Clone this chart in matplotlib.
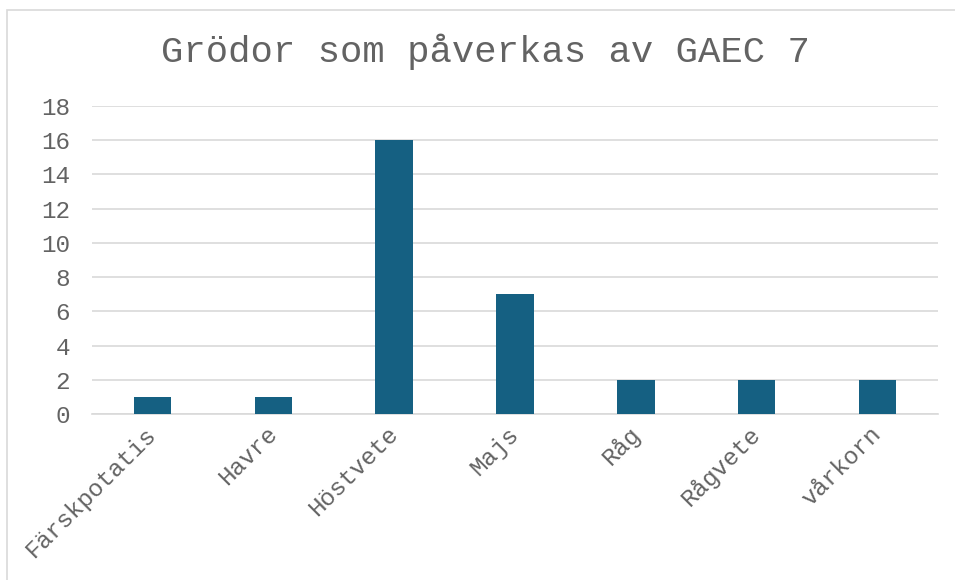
import matplotlib.pyplot as plt
import matplotlib.transforms as mtransforms
from matplotlib.patches import Rectangle

# Data
crops = ['Färskpotatis', 'Havre', 'Höstvete', 'Majs', 'Råg', 'Rågvete', 'vårkorn']
counts = [1, 1, 16, 7, 2, 2, 2]
yticks = [0, 2, 4, 6, 8, 10, 12, 14, 16, 18]

W, H = 955, 580
plt.rcParams['font.family'] = ['Liberation Mono', 'DejaVu Sans Mono']
txt = '#636363'

fig = plt.figure(figsize=(W / 100, H / 100), dpi=100)
# outer chart border
fig.patches.append(Rectangle((7 / W, -0.05), 1.1, (H - 10) / H + 0.05,
                             transform=fig.transFigure, fill=False,
                             edgecolor='#d9d9d9', linewidth=1.2))

ax = fig.add_axes([92 / W, 1 - 414 / H, (938 - 92) / W, (414 - 106) / H])
x = range(len(crops))
ax.bar(x, counts, width=0.31, color='#156082', zorder=3)

ax.set_xlim(-0.5, len(crops) - 0.5)
ax.set_ylim(0, 18)
ax.set_yticks(yticks)
ax.set_xticks(list(x))
ax.set_xticklabels(crops, rotation=45, ha='right', rotation_mode='anchor')
ax.tick_params(axis='both', length=0, labelsize=17.5, labelcolor=txt)
ax.tick_params(axis='y', pad=16)
ax.tick_params(axis='x', pad=6)
# nudge rotated labels a little to the left, like the original
shift = mtransforms.ScaledTranslation(-8 / 100, 0, fig.dpi_scale_trans)
for lbl in ax.get_xticklabels():
    lbl.set_transform(lbl.get_transform() + shift)
ax.grid(axis='y', color='#d9d9d9', linewidth=1.2, zorder=0)
for s in ['top', 'right', 'left']:
    ax.spines[s].set_visible(False)
ax.spines['bottom'].set_color('#d9d9d9')
ax.spines['bottom'].set_linewidth(1.2)

fig.text(485 / W, 1 - 52 / H, 'Grödor som påverkas av GAEC 7',
         ha='center', va='center', fontsize=26.8, color=txt)

fig.savefig('out.png', dpi=100)
